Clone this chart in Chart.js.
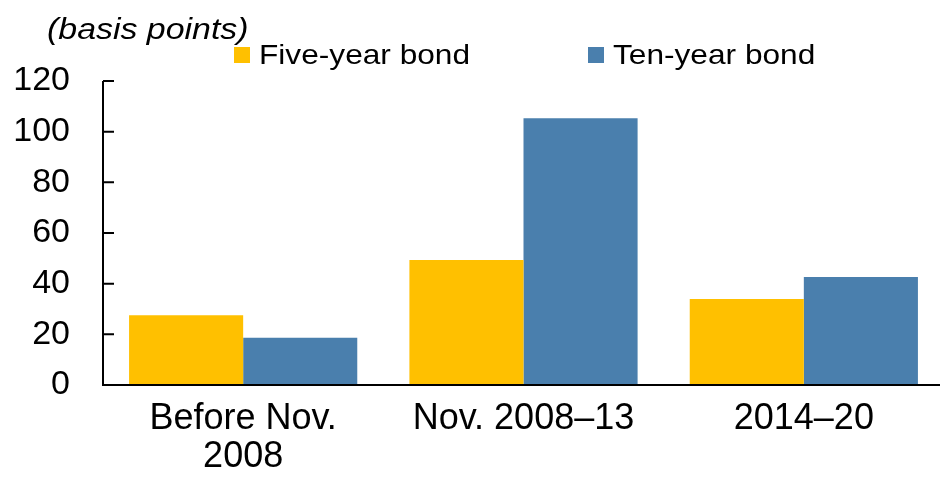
<!DOCTYPE html>
<html>
<head>
<meta charset="utf-8">
<script src="https://cdn.jsdelivr.net/npm/chart.js@4"></script>
<style>
  html, body { margin: 0; padding: 0; background: #fff; overflow: hidden; }
  #wrap { position: relative; width: 940px; height: 477px; overflow: hidden; font-family: "Liberation Sans", Arial, sans-serif; }
  #c { position: absolute; left: 0; top: 0; }
  #unit { position: absolute; left: 47px; top: 11px; font-size: 30px; font-style: italic; color: #000; line-height: 36px;
          transform: scaleX(1.13); transform-origin: left top; white-space: nowrap; }
  .item { position: absolute; top: 38px; font-size: 28px; color: #000; line-height: 34px; white-space: nowrap; }
  .box { position: absolute; left: 0; top: 9px; width: 16px; height: 16px; }
  .txt { position: absolute; left: 25px; top: 0; transform: scaleX(1.13); transform-origin: left top; }
</style>
</head>
<body>
<div id="wrap">
  <canvas id="c" width="944" height="477"></canvas>
  <div id="unit">(basis points)</div>
  <div id="legend"></div>
</div>
<script>
// Bond spreads by period, basis points
const categories = [['Before Nov.', '2008'], 'Nov. 2008–13', '2014–20'];
const seriesNames = ['Five-year bond', 'Ten-year bond'];
const fiveYear = [27.5, 49.3, 33.9];
const tenYear = [18.7, 105.3, 42.6];
const yTicks = [0, 20, 40, 60, 80, 100, 120];
const colors = ['#FFC000', '#4A7FAD'];

const font = "'Liberation Sans', Arial, sans-serif";

// inward tick marks + axis lines drawn on top of the bars
const axisPlugin = {
  id: 'axisOnTop',
  afterDatasetsDraw(chart) {
    const { ctx, chartArea, scales } = chart;
    ctx.save();
    ctx.strokeStyle = '#000';
    ctx.lineWidth = 2;
    ctx.beginPath();
    ctx.moveTo(chartArea.left, chartArea.top);
    ctx.lineTo(chartArea.left, chartArea.bottom);
    ctx.lineTo(chartArea.right + 5, chartArea.bottom);
    for (const v of yTicks) {
      const y = scales.y.getPixelForValue(v);
      ctx.moveTo(chartArea.left, y);
      ctx.lineTo(chartArea.left + 11, y);
    }
    ctx.stroke();
    ctx.restore();
  }
};

const chart = new Chart(document.getElementById('c'), {
  type: 'bar',
  data: {
    labels: categories,
    datasets: [
      { label: seriesNames[0], data: fiveYear, backgroundColor: colors[0] },
      { label: seriesNames[1], data: tenYear, backgroundColor: colors[1] }
    ]
  },
  options: {
    responsive: false,
    animation: false,
    layout: { padding: { top: 81, right: 0, left: 0, bottom: 0 } },
    datasets: { bar: { barPercentage: 1, categoryPercentage: 0.814 } },
    plugins: { legend: { display: false }, tooltip: { enabled: false } },
    scales: {
      x: {
        grid: { display: false, drawTicks: false },
        border: { display: false },
        ticks: { color: '#000', font: { family: font, size: 36, lineHeight: 1.03 }, padding: 16, maxRotation: 0, autoSkip: false },
        afterFit(s) { s.height = 92; }
      },
      y: {
        min: 0, max: 120,
        afterBuildTicks(s) { s.ticks = yTicks.map(v => ({ value: v })); },
        grid: { display: false, drawTicks: false },
        border: { display: false },
        ticks: { color: '#000', font: { family: font, size: 34 }, padding: 33 },
        afterFit(s) { s.width = 103; }
      }
    }
  },
  plugins: [axisPlugin]
});

// html legend built from the datasets
const legend = document.getElementById('legend');
const legendLeft = [234, 588];
chart.data.datasets.forEach((ds, i) => {
  const it = document.createElement('div');
  it.className = 'item';
  it.style.left = legendLeft[i] + 'px';
  it.innerHTML = `<span class="box" style="background:${ds.backgroundColor}"></span><span class="txt">${ds.label}</span>`;
  legend.appendChild(it);
});
</script>
</body>
</html>
